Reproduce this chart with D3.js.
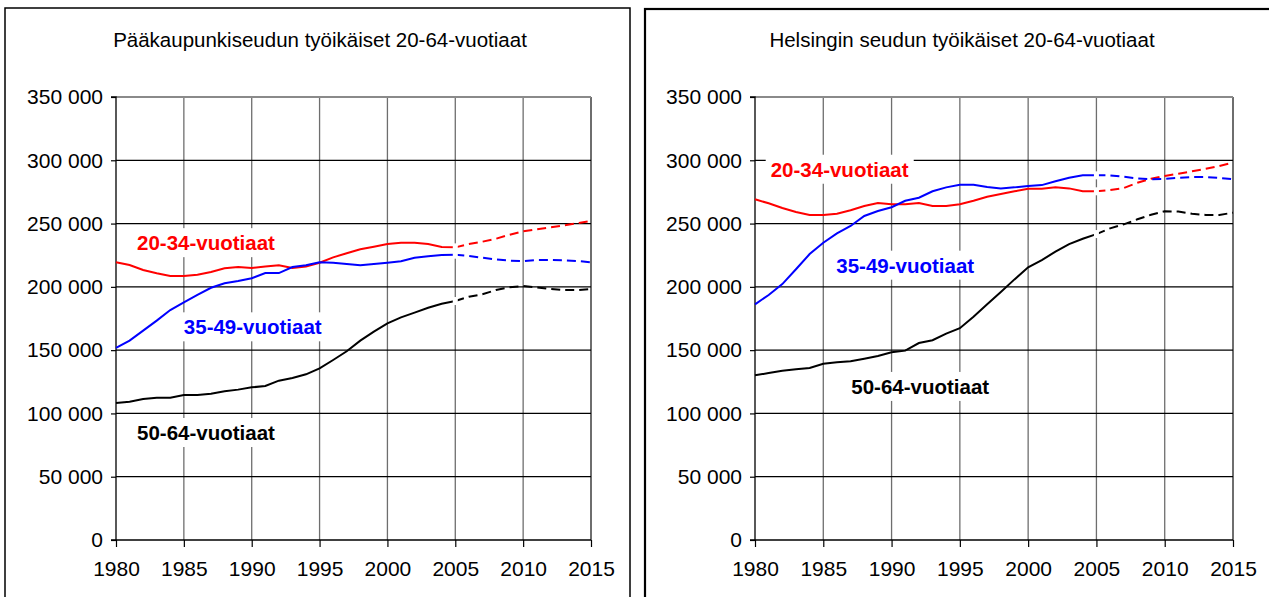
<!DOCTYPE html>
<html><head><meta charset="utf-8">
<script src="https://cdn.jsdelivr.net/npm/d3@7"></script>
<style>
body{margin:0;background:#fff}
svg{display:block}
text{font-family:"Liberation Sans",Arial,Helvetica,sans-serif}
</style>
</head><body>
<svg id="chart" width="1269" height="597"></svg>
<script>
// ---------- DATA ----------
const years = [1980,1981,1982,1983,1984,1985,1986,1987,1988,1989,1990,1991,1992,1993,1994,1995,1996,1997,1998,1999,2000,2001,2002,2003,2004,2005,2006,2007,2008,2009,2010,2011,2012,2013,2014,2015];
const xTicks = [1980,1985,1990,1995,2000,2005,2010,2015];
const yTicks = [0,50000,100000,150000,200000,250000,300000,350000];
const projectionStart = 2005;

const seriesNames = ["20-34-vuotiaat","35-49-vuotiaat","50-64-vuotiaat"];
const seriesColors = ["#ff0000","#0000ff","#000000"];

const titles = ["Pääkaupunkiseudun työikäiset 20-64-vuotiaat","Helsingin seudun työikäiset 20-64-vuotiaat"];

// Pääkaupunkiseutu
const pks_20_34 = [219400,217300,213300,210700,208600,208600,209600,211700,214700,215700,214900,216000,217000,214900,216000,219100,223300,226500,229700,231700,233800,234900,234900,233800,231500,231200,233800,235700,238000,241200,243900,245500,247000,248600,250200,252000];
const pks_35_49 = [151700,157500,165400,173300,181700,187800,193600,199300,202800,204600,206800,210900,210900,215700,217000,219400,219100,218000,217000,218000,219100,220200,223000,224100,225200,225400,224400,223000,221700,220700,220400,221200,221200,221000,220400,219400];
const pks_50_64 = [108200,109300,111400,112400,112400,114600,114600,115600,117500,118800,120600,121700,125900,128000,130900,135600,142200,149100,157500,164600,171200,175900,179600,183500,186700,188800,192200,194100,197500,199600,200700,199600,198300,197500,197500,198300];

// Helsingin seutu
const hs_20_34 = [269200,266000,262300,259100,256800,256800,257800,260500,263900,266200,265200,265200,266200,263900,263900,265200,268000,271200,273300,275500,277500,277500,278600,277800,275500,275500,276500,278100,282300,285400,287600,289400,291300,293300,295500,298100];
const hs_35_49 = [186200,193600,202200,213900,225900,234900,242300,248100,256000,259900,262900,268000,270400,275500,278600,280700,280700,278900,277800,278600,279700,280400,283500,286200,288100,288100,288100,287000,285700,285000,285400,286200,286800,286800,286000,285000];
const hs_50_64 = [130100,131900,133800,134900,135900,139300,140400,141200,143200,145400,148300,149600,155600,157800,163000,167300,176400,186200,195900,205900,215400,221200,227800,233800,238000,241700,246200,249400,253400,257000,259700,259500,257800,256800,256800,258600];

// label anchors (year, value at text baseline)
const pksLabelAnchors = [[1981.55,229000],[1985.0,162500],[1981.55,79000]];
const hsLabelAnchors = [[1981.15,287000],[1985.95,211200],[1987.05,115400]];

// ---------- LAYOUT ----------
const panels = [
  {title: titles[0], series:[pks_20_34,pks_35_49,pks_50_64], labels: pksLabelAnchors,
   box:{x:5,y:8,w:625,h:600,sw:1.5}, px0:116, px1:591, titleX:320},
  {title: titles[1], series:[hs_20_34,hs_35_49,hs_50_64], labels: hsLabelAnchors,
   box:{x:645,y:9,w:640,h:600,sw:2.2}, px0:755, px1:1233, titleX:962}
];
const py0 = 97, py1 = 540;
const fmt = v => d3.format(",")(v).replace(/,/g, " ");
const svg = d3.select("#chart");

panels.forEach(p => {
  const g = svg.append("g");
  g.append("rect").attr("x",p.box.x).attr("y",p.box.y).attr("width",p.box.w).attr("height",p.box.h)
    .attr("fill","#fff").attr("stroke","#000").attr("stroke-width",p.box.sw);

  g.append("text").attr("x",p.titleX).attr("y",47).attr("text-anchor","middle")
    .style("font-size","20.5px").style("fill","#000").text(p.title);

  const x = d3.scaleLinear().domain([1980,2015]).range([p.px0,p.px1]);
  const y = d3.scaleLinear().domain([0,350000]).range([py1,py0]);

  // vertical grid (grey)
  g.append("g").selectAll("line").data(xTicks.slice(1)).join("line")
    .attr("x1",d=>x(d)).attr("x2",d=>x(d)).attr("y1",py0).attr("y2",py1)
    .attr("stroke","#6e6e6e").attr("stroke-width",d=>d===2015?2:1.3);
  // horizontal grid
  g.append("g").selectAll("line").data(yTicks.slice(1)).join("line")
    .attr("x1",p.px0).attr("x2",p.px1).attr("y1",d=>y(d)).attr("y2",d=>y(d))
    .attr("stroke",d=>d===350000?"#8a8a8a":"#000").attr("stroke-width",d=>d===350000?2:1.2);

  // y axis
  const ya = d3.axisLeft(y).tickValues(yTicks).tickFormat(fmt).tickSize(5).tickPadding(8);
  const yg = g.append("g").attr("transform",`translate(${p.px0},0)`).call(ya);
  yg.select(".domain").attr("stroke","#000").attr("stroke-width",1.3).attr("d",`M-5,${py0}H0V${py1}H-5`);
  yg.selectAll(".tick line").attr("stroke","#000").attr("stroke-width",1.2);
  yg.selectAll("text").style("font-size","21px").style("font-family","'Liberation Sans',Arial,sans-serif").style("fill","#000");

  // x axis
  const xa = d3.axisBottom(x).tickValues(xTicks).tickFormat(d3.format("d")).tickSize(7).tickPadding(14);
  const xg = g.append("g").attr("transform",`translate(0,${py1})`).call(xa);
  xg.select(".domain").attr("stroke","#000").attr("stroke-width",1.5).attr("d",`M${p.px0},0H${p.px1}`);
  xg.selectAll(".tick line").attr("stroke","#000").attr("stroke-width",1.2);
  xg.selectAll("text").style("font-size","21px").style("font-family","'Liberation Sans',Arial,sans-serif").style("fill","#000");

  // lines
  const line = d3.line().x(d=>x(d[0])).y(d=>y(d[1]));
  p.series.forEach((vals,i) => {
    const pts = years.map((yr,k)=>[yr,vals[k]]);
    g.append("path").datum(pts.filter(d=>d[0]<=projectionStart)).attr("d",line)
      .attr("fill","none").attr("stroke",seriesColors[i]).attr("stroke-width",2);
    g.append("path").datum(pts.filter(d=>d[0]>=projectionStart)).attr("d",line)
      .attr("fill","none").attr("stroke",seriesColors[i]).attr("stroke-width",2)
      .attr("stroke-dasharray","9,5");
  });
  // white separators at projection start
  p.series.forEach((vals) => {
    const k = years.indexOf(projectionStart);
    g.append("rect").attr("x",x(projectionStart)-2.5).attr("y",y(vals[k])-4)
      .attr("width",5).attr("height",8).attr("fill","#fff");
  });

  // series labels
  p.labels.forEach((a,i) => {
    const t = g.append("text").attr("x",x(a[0])).attr("y",y(a[1]))
      .style("font-size","20.5px").style("font-weight","bold").style("fill",seriesColors[i])
      .text(seriesNames[i]);
    const bb = t.node().getBBox();
    g.insert("rect", function(){ return t.node(); })
      .attr("x",bb.x-5).attr("y",bb.y-3).attr("width",bb.width+10).attr("height",bb.height+6)
      .attr("fill","#fff");
  });
});
</script>
</body></html>
